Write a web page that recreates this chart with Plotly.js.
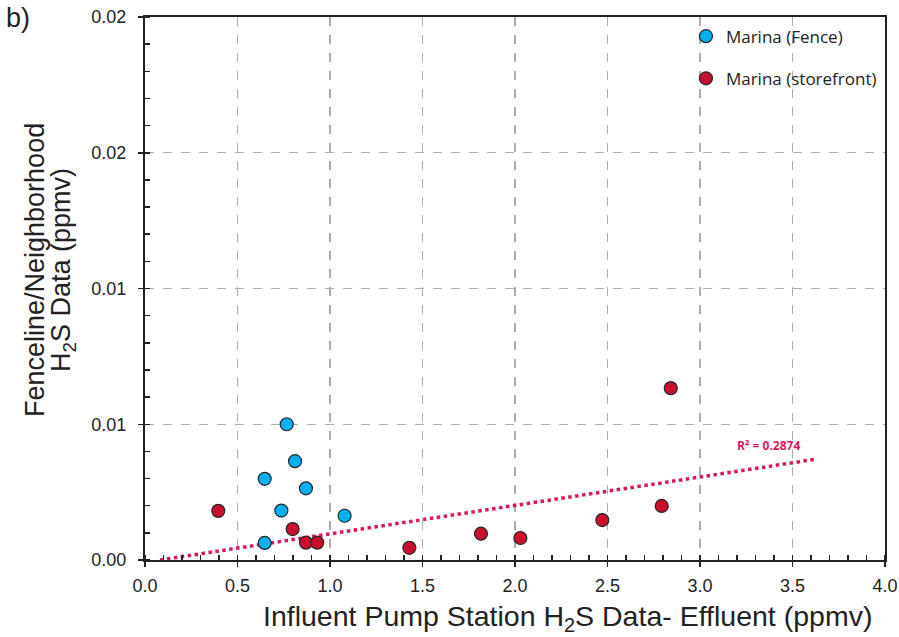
<!DOCTYPE html>
<html>
<head>
<meta charset="utf-8">
<script src="https://cdn.plot.ly/plotly-3.0.1.min.js"></script>
<style>html,body{margin:0;padding:0;background:#fff;}#chart{width:899px;height:637px;}</style>
</head>
<body>
<div id="chart"></div>
<script>
// Marina (Fence)
const fenceX = [0.766, 0.811, 0.647, 0.870, 0.737, 1.079, 0.647];
const fenceY = [0.00500, 0.00364, 0.00299, 0.00264, 0.00182, 0.00163, 0.00063];
// Marina (storefront)
const storeX = [0.396, 0.798, 0.870, 0.931, 1.429, 1.816, 2.029, 2.472, 2.793, 2.842];
const storeY = [0.00181, 0.00114, 0.00064, 0.00064, 0.00045, 0.00097, 0.00081, 0.00147, 0.00199, 0.00633];
// trendline span (x)
const trendX = [0.081, 3.625];
const trendLabel = 'R² = 0.2874';
const yTickVals = [0, 0.005, 0.01, 0.015, 0.02];
const yTickText = ['0.00', '0.01', '0.01', '0.02', '0.02'];
const xTickVals = [0, 0.5, 1, 1.5, 2, 2.5, 3, 3.5, 4];
const xTickText = ['0.0', '0.5', '1.0', '1.5', '2.0', '2.5', '3.0', '3.5', '4.0'];
const xTitle = 'Influent Pump Station H<sub>2</sub>S Data- Effluent (ppmv)';
const yTitle1 = 'Fenceline/Neighborhood';
const yTitle2 = 'H<sub>2</sub>S Data (ppmv)';

// linear regression of storefront series
const n = storeX.length;
const mx = storeX.reduce((a, b) => a + b, 0) / n;
const my = storeY.reduce((a, b) => a + b, 0) / n;
let sxy = 0, sxx = 0;
for (let i = 0; i < n; i++) { sxy += (storeX[i] - mx) * (storeY[i] - my); sxx += (storeX[i] - mx) ** 2; }
const slope = sxy / sxx, icpt = my - slope * mx;
const trendY = trendX.map(x => Math.max(0, icpt + slope * x));

const trendColor = '#D6195E';
const traces = [
  { x: trendX, y: trendY, mode: 'lines', type: 'scatter', showlegend: false,
    line: { color: trendColor, width: 3.5, dash: 'dot' }, hoverinfo: 'skip' },
  { x: fenceX, y: fenceY, mode: 'markers', type: 'scatter', name: 'Marina (Fence)', legendgroup: 'a',
    marker: { color: '#00B0F0', size: 13, line: { color: '#262626', width: 1.2 } } },
  { x: storeX, y: storeY, mode: 'markers', type: 'scatter', name: 'Marina (storefront)', legendgroup: 'b',
    marker: { color: '#C8102E', size: 13, line: { color: '#262626', width: 1.2 } } }
];

const FF = 'Liberation Sans, Arial, sans-serif';
const tickFont = { family: FF, size: 18, color: '#222' };
const layout = {
  width: 899, height: 637,
  margin: { l: 145, r: 14, t: 17, b: 77 },
  paper_bgcolor: '#fff', plot_bgcolor: '#fff',
  font: tickFont,
  xaxis: {
    range: [0, 4], tickvals: xTickVals, ticktext: xTickText,
    showline: true, linecolor: '#222', linewidth: 2, mirror: true,
    ticks: 'outside', ticklen: 5, tickcolor: '#222', tickwidth: 1.5,
    minor: { dtick: 0.1, ticks: 'inside', ticklen: 5, tickcolor: '#222', showgrid: false },
    showgrid: true, gridcolor: '#ADADAD', griddash: 'dash', gridwidth: 1.2,
    zeroline: false, tickfont: tickFont, ticklabelstandoff: 3
  },
  yaxis: {
    range: [0, 0.02], tickvals: yTickVals, ticktext: yTickText,
    showline: true, linecolor: '#222', linewidth: 2, mirror: true,
    ticks: 'outside', ticklen: 5, tickcolor: '#222', tickwidth: 1.5,
    minor: { dtick: 0.001, ticks: 'inside', ticklen: 5, tickcolor: '#222', showgrid: false },
    showgrid: true, gridcolor: '#ADADAD', griddash: 'dash', gridwidth: 1.2,
    zeroline: false, tickfont: tickFont, ticklabelstandoff: 8
  },
  legend: {
    x: 0.731, y: 0.997, xanchor: 'left', yanchor: 'top',
    bgcolor: 'rgba(0,0,0,0)', tracegroupgap: 17, itemwidth: 30,
    font: { family: 'Open Sans, sans-serif', size: 17, color: '#222' }
  },
  annotations: [
    { x: 3.19, y: 0.0042, xref: 'x', yref: 'y', text: '<b>' + trendLabel + '</b>',
      showarrow: false, xanchor: 'left', yanchor: 'middle',
      font: { family: 'Open Sans, sans-serif', size: 12, color: trendColor } },
    { xref: 'paper', yref: 'paper', x: 0.5716, y: -0.106, xanchor: 'center', yanchor: 'middle',
      text: xTitle, showarrow: false, font: { family: FF, size: 28.5, color: '#222' } },
    { xref: 'paper', yref: 'paper', x: (35 - 145) / 740, y: 0.534, xanchor: 'center', yanchor: 'middle',
      textangle: -90, text: yTitle1, showarrow: false, font: { family: FF, size: 27, color: '#222' } },
    { xref: 'paper', yref: 'paper', x: (63 - 145) / 740, y: 0.534, xanchor: 'center', yanchor: 'middle',
      textangle: -90, text: yTitle2, showarrow: false, font: { family: FF, size: 27, color: '#222' } },
    { xref: 'paper', yref: 'paper', x: -0.19, y: 1.03, xanchor: 'left', yanchor: 'top',
      text: 'b)', showarrow: false, font: { family: FF, size: 27, color: '#222' } }
  ]
};
Plotly.newPlot('chart', traces, layout, { displayModeBar: false, staticPlot: true });
</script>
</body>
</html>
